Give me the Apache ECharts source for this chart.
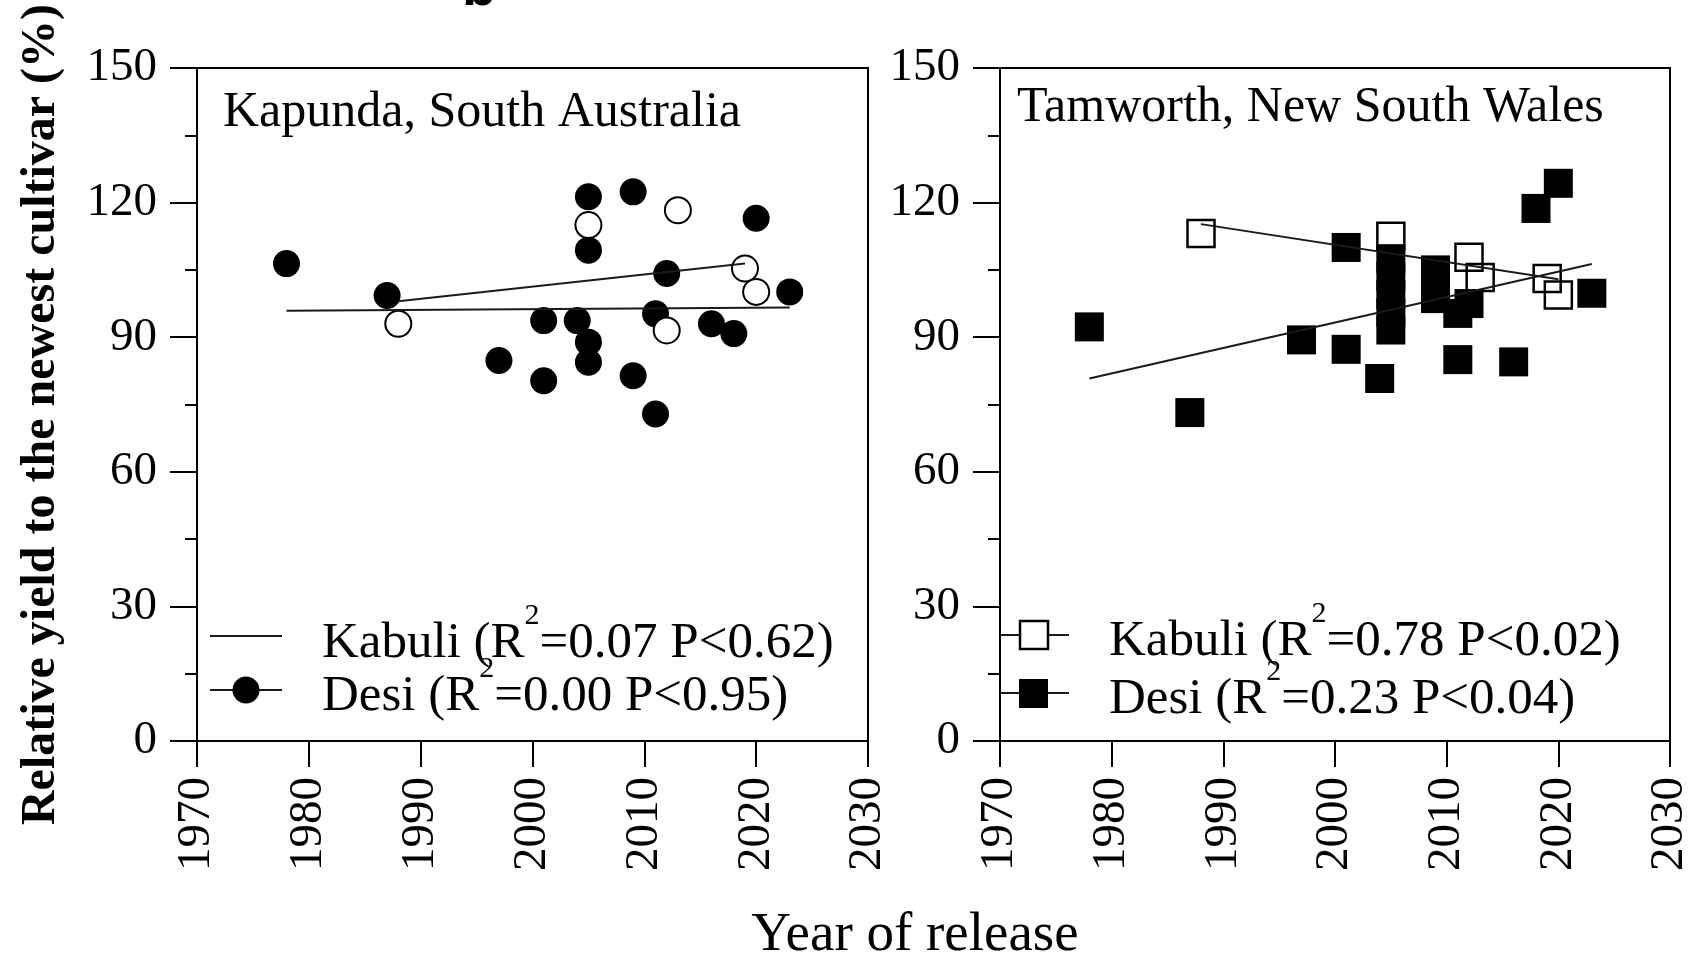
<!DOCTYPE html>
<html>
<head>
<meta charset="utf-8">
<title>Relative yield to the newest cultivar</title>
<script src="https://cdn.jsdelivr.net/npm/echarts@6/dist/echarts.min.js"></script>
<style>
  html, body { margin: 0; padding: 0; background: #fff; }
  #chart { width: 1691px; height: 960px; }
</style>
</head>
<body>
<div id="chart"></div>
<script>
// tick labels
const xTicks = [1970, 1980, 1990, 2000, 2010, 2020, 2030];
const yTicks = [0, 30, 60, 90, 120, 150];

// Kapunda, South Australia (circles)
const kapDesiYear = [1978, 1987, 1997, 2001, 2001, 2004, 2005, 2005, 2005, 2005, 2009, 2009, 2011, 2011, 2012, 2016, 2018, 2020, 2023];
const kapDesiYield = [106.4, 99.3, 84.8, 93.7, 80.3, 93.7, 121.3, 109.4, 88.9, 84.4, 122.4, 81.4, 95.2, 72.9, 104.2, 93.0, 90.8, 116.5, 100.1];
const kapKabuliYear = [1988, 2005, 2013, 2012, 2019, 2020];
const kapKabuliYield = [93.0, 115.0, 118.3, 91.5, 105.3, 100.1];
// fitted lines, end points
const kapKabuliFitYear = [1988, 2019];
const kapKabuliFitYield = [98.0, 106.4];
const kapDesiFitYear = [1978, 2023];
const kapDesiFitYield = [95.9, 96.6];

// Tamworth, New South Wales (squares)
const tamDesiYear = [1978, 1987, 1997, 2001, 2001, 2004, 2005, 2005, 2005, 2005, 2005, 2009, 2009, 2009, 2011, 2012, 2011, 2016, 2018, 2020, 2023];
const tamDesiYield = [92.3, 73.2, 89.4, 110.0, 87.3, 80.8, 107.5, 103.5, 99.5, 95.5, 91.6, 105.0, 101.8, 98.6, 95.3, 97.5, 85.0, 84.5, 118.7, 124.3, 99.8];
const tamKabuliYear = [1988, 2005, 2012, 2013, 2019, 2020];
const tamKabuliYield = [113.1, 112.5, 107.8, 103.3, 103.1, 99.4];
const tamKabuliFitYear = [1988, 2020];
const tamKabuliFitYield = [115.2, 102.9];
const tamDesiFitYear = [1978, 2023];
const tamDesiFitYield = [80.8, 106.3];

const kapLegend = ['Kabuli (R2=0.07 P<0.62)', 'Desi (R2=0.00 P<0.95)'];
const tamLegend = ['Kabuli (R2=0.78 P<0.02)', 'Desi (R2=0.23 P<0.04)'];

const serif = '"Liberation Serif", "Times New Roman", serif';
const ink = '#000';

function pairs(xs, ys) {
  return xs.map((x, i) => [x, ys[i]]);
}

// "R2" -> R with superscript 2
function supText(label) {
  const parts = label.split('R2');
  return '{t|' + parts[0] + 'R}{s|2}{t|' + parts[1] + '}';
}

const richStyle = {
  t: { fontFamily: serif, fontSize: 51, lineHeight: 68, fill: ink, verticalAlign: 'bottom' },
  s: { fontFamily: serif, fontSize: 30, lineHeight: 30, fill: ink, verticalAlign: 'top' },
};

function xAxisFor(gridIndex) {
  return {
    type: 'value',
    gridIndex: gridIndex,
    min: xTicks[0],
    max: xTicks[xTicks.length - 1],
    interval: xTicks[1] - xTicks[0],
    axisLine: { show: true, lineStyle: { color: ink, width: 2 } },
    axisTick: { show: true, length: 26, lineStyle: { color: ink, width: 2 } },
    axisLabel: {
      rotate: 90,
      margin: 36,
      color: ink,
      fontFamily: serif,
      fontSize: 47,
      formatter: (v) => String(v),
    },
    splitLine: { show: false },
  };
}

function yAxisFor(gridIndex, name) {
  return {
    type: 'value',
    gridIndex: gridIndex,
    min: yTicks[0],
    max: yTicks[yTicks.length - 1],
    interval: yTicks[1] - yTicks[0],
    axisLine: { show: true, lineStyle: { color: ink, width: 2 } },
    axisTick: { show: true, length: 27, lineStyle: { color: ink, width: 2 } },
    minorTick: { show: true, splitNumber: 2, length: 12, lineStyle: { color: ink, width: 2 } },
    axisLabel: { margin: 40, color: ink, fontFamily: serif, fontSize: 47 },
    splitLine: { show: false },
    minorSplitLine: { show: false },
    name: name,
    nameLocation: 'middle',
    nameGap: 131,
    nameTextStyle: { color: ink, fontFamily: serif, fontWeight: 'bold', fontSize: 48, padding: [0, 20, 0, 0] },
  };
}

function fitLine(gridIndex, xs, ys) {
  return {
    type: 'line',
    xAxisIndex: gridIndex,
    yAxisIndex: gridIndex,
    data: pairs(xs, ys),
    symbol: 'none',
    lineStyle: { color: '#1a1a1a', width: 2 },
    z: 5,
    silent: true,
  };
}

// legend rows drawn by hand: line sample, marker, text (baseline given)
function legendRow(x1, x2, y, baseline, marker, label) {
  const items = [
    { type: 'line', shape: { x1: x1, y1: y, x2: x2, y2: y }, style: { stroke: '#1a1a1a', lineWidth: 2 } },
  ];
  if (marker) items.push(marker);
  items.push({
    type: 'text',
    x: x2 + 40,
    y: baseline - 54,
    style: { text: supText(label), rich: richStyle, verticalAlign: 'top', fill: ink },
  });
  return items;
}

const chart = echarts.init(document.getElementById('chart'));

const option = {
  animation: false,
  backgroundColor: '#fff',
  grid: [
    { left: 197, top: 68, width: 671, height: 673, show: true, borderColor: ink, borderWidth: 2, backgroundColor: 'transparent', outerBoundsMode: 'none' },
    { left: 1000, top: 68, width: 670, height: 673, show: true, borderColor: ink, borderWidth: 2, backgroundColor: 'transparent', outerBoundsMode: 'none' },
  ],
  xAxis: [xAxisFor(0), xAxisFor(1)],
  yAxis: [yAxisFor(0, 'Relative yield to the newest cultivar (%)'), yAxisFor(1, '')],
  series: [
    {
      name: 'Kapunda Desi',
      type: 'scatter',
      xAxisIndex: 0,
      yAxisIndex: 0,
      data: pairs(kapDesiYear, kapDesiYield),
      symbol: 'circle',
      symbolSize: 27,
      itemStyle: { color: ink, opacity: 1 },
      z: 3,
    },
    {
      name: 'Kapunda Kabuli',
      type: 'scatter',
      xAxisIndex: 0,
      yAxisIndex: 0,
      data: pairs(kapKabuliYear, kapKabuliYield),
      symbol: 'circle',
      symbolSize: 26,
      itemStyle: { color: '#fff', borderColor: ink, borderWidth: 2, opacity: 1 },
      z: 4,
    },
    fitLine(0, kapKabuliFitYear, kapKabuliFitYield),
    fitLine(0, kapDesiFitYear, kapDesiFitYield),
    {
      name: 'Tamworth Kabuli',
      type: 'scatter',
      xAxisIndex: 1,
      yAxisIndex: 1,
      data: pairs(tamKabuliYear, tamKabuliYield),
      symbol: 'rect',
      symbolSize: 27,
      itemStyle: { color: 'rgba(255,255,255,0)', borderColor: ink, borderWidth: 2.5, opacity: 1 },
      z: 3,
    },
    {
      name: 'Tamworth Desi',
      type: 'scatter',
      xAxisIndex: 1,
      yAxisIndex: 1,
      data: pairs(tamDesiYear, tamDesiYield),
      symbol: 'rect',
      symbolSize: 29,
      itemStyle: { color: ink, opacity: 1 },
      z: 4,
    },
    fitLine(1, tamKabuliFitYear, tamKabuliFitYield),
    fitLine(1, tamDesiFitYear, tamDesiFitYield),
  ],
  graphic: [
    // clipped panel letter at the very top
    { type: 'text', x: 462, y: -10, style: { text: 'b', font: 'bold 56px "Liberation Sans", Arial, sans-serif', fill: ink, verticalAlign: 'middle' } },
    { type: 'text', x: 223, y: 113, style: { text: 'Kapunda, South Australia', font: '50px ' + serif, fill: ink, verticalAlign: 'middle' } },
    { type: 'text', x: 1017, y: 108, style: { text: 'Tamworth, New South Wales', font: '50px ' + serif, fill: ink, verticalAlign: 'middle' } },
    { type: 'text', x: 915, y: 936, style: { text: 'Year of release', font: '55px ' + serif, fill: ink, align: 'center', verticalAlign: 'middle' } },
    ...legendRow(210, 282, 636, 655, null, kapLegend[0]),
    ...legendRow(210, 282, 690, 708, { type: 'circle', shape: { cx: 246, cy: 690, r: 13.5 }, style: { fill: ink } }, kapLegend[1]),
    ...legendRow(1000, 1069, 635, 653, { type: 'rect', shape: { x: 1020, y: 621, width: 28, height: 28 }, style: { fill: '#fff', stroke: ink, lineWidth: 2.5 } }, tamLegend[0]),
    ...legendRow(1000, 1069, 693, 711, { type: 'rect', shape: { x: 1019, y: 679, width: 29, height: 29 }, style: { fill: ink } }, tamLegend[1]),
  ],
};

chart.setOption(option);
</script>
</body>
</html>
